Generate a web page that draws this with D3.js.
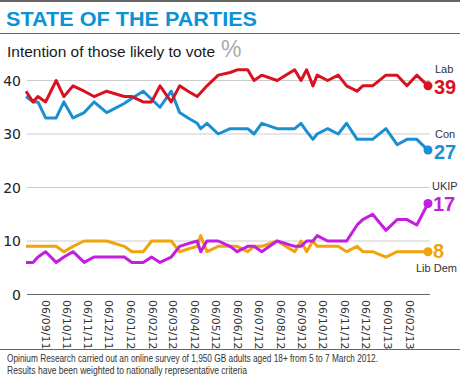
<!DOCTYPE html>
<html><head><meta charset="utf-8">
<script src="https://cdn.jsdelivr.net/npm/d3@7"></script>
<style>
html,body{margin:0;padding:0;background:#fff;}
svg{display:block;font-family:"Liberation Sans",Arial,sans-serif;}
</style></head>
<body>
<svg id="c" width="460" height="381"></svg>
<script>
const dates = ["2011-08-10","2011-08-20","2011-08-27","2011-09-07","2011-09-22","2011-10-03","2011-10-16","2011-11-01","2011-11-15","2011-12-03","2011-12-28","2012-01-08","2012-01-24","2012-02-05","2012-02-17","2012-03-04","2012-03-16","2012-03-28","2012-04-10","2012-04-15","2012-04-24","2012-05-10","2012-05-27","2012-06-06","2012-06-21","2012-06-30","2012-07-11","2012-08-02","2012-08-27","2012-09-05","2012-09-13","2012-09-22","2012-09-28","2012-10-13","2012-10-28","2012-11-09","2012-11-24","2012-12-02","2012-12-16","2013-01-04","2013-01-20","2013-02-03","2013-02-17","2013-03-05"];
const lab  = [38,36,37,36,40,37,39,38,37,38,37,37,36,36,39,36,39,38,37,37.7,39,41,41.5,42,42,40,41,40,42,40,42,39,41,40,41,39,38,39,39,41,41,39,41,39];
const con  = [37,36,36,33,33,36,33,34,36,34,35.7,36.7,38,36.5,35,38,34,33,32,31,32,30,31,31,31,30,32,31,31,32,30.5,29,30,31,30,32,29,29,29,31,28,29,29,27];
const ukip = [6,6,7,8,6,7,8,6,7,7,7,6,6,7,6,7,9,9.5,10,8,10,10,9,8,9,9,8,10,9,9,10,10,11,10,10,10,13,14,15,12,14,14,13,17];
const libdem = [9,9,9,9,9,8,9,10,10,10,9,8,8,10,10,10,8,8.5,9,11,8,9,9,9,8,9,9,10,8,10,8,10,9,9,9,8,9,8,8,7,8,8,8,8];
const yTicks = [0,10,20,30,40];
const xTickDates = ["2011-09-06","2011-10-06","2011-11-06","2011-12-06","2012-01-06","2012-02-06","2012-03-06","2012-04-06","2012-05-06","2012-06-06","2012-07-06","2012-08-06","2012-09-06","2012-10-06","2012-11-06","2012-12-06","2013-01-06","2013-02-06"];
const seriesNames = ["Lib Dem","UKIP","Con","Lab"];
const seriesColors = ["#f0a30a","#c31ee0","#1b8fd2","#d9121f"];

const parse = d3.timeParse("%Y-%m-%d");
const svg = d3.select("#c");

const x = d3.scaleTime().domain([parse(dates[0]), parse(dates[dates.length-1])]).range([26, 428]);
const y = d3.scaleLinear().domain([0, 40]).range([294.5, 80.5]);

// top rule
svg.append("line").attr("x1",0).attr("x2",460).attr("y1",1).attr("y2",1).attr("stroke","#333").attr("stroke-width",1.5);
// title
svg.append("text").attr("x",6).attr("y",25.5).text("STATE OF THE PARTIES")
  .attr("font-size",21).attr("font-weight","bold").attr("fill","#0b93d6")
  .attr("textLength",251).attr("lengthAdjust","spacingAndGlyphs");
svg.append("line").attr("x1",0).attr("x2",460).attr("y1",33.5).attr("y2",33.5).attr("stroke","#666").attr("stroke-width",1);
// subtitle
svg.append("text").attr("x",7).attr("y",57).text("Intention of those likely to vote")
  .attr("font-size",14.5).attr("fill","#1a1a1a").attr("textLength",208).attr("lengthAdjust","spacingAndGlyphs");
svg.append("text").attr("x",221).attr("y",57).text("%").attr("font-size",23).attr("fill","#aaa");

// grid
const g = svg.append("g");
g.selectAll("line.grid").data(yTicks).join("line")
  .attr("x1",27).attr("x2",430).attr("y1",d=>y(d)).attr("y2",d=>y(d))
  .attr("stroke",d=>d===0?"#666":"#ccc").attr("stroke-width",d=>d===0?1.2:1);

// y axis labels via axis
const yAxis = d3.axisLeft(y).tickValues(yTicks).tickSize(0).tickPadding(0);
const ya = svg.append("g").attr("transform","translate(21,0)").call(yAxis);
ya.select(".domain").remove();
ya.selectAll("text").attr("font-size",14).attr("fill","#222").attr("font-family","'DejaVu Sans',sans-serif").attr("dy","0.35em");

// x axis labels
const xAxis = d3.axisBottom(x).tickValues(xTickDates.map(parse)).tickFormat(d3.timeFormat("%d/%m/%y")).tickSize(0).tickPadding(0);
const xa = svg.append("g").attr("transform","translate(0,300)").call(xAxis);
xa.select(".domain").remove();
xa.selectAll("text").attr("font-size",11).attr("fill","#333").attr("font-family","'DejaVu Sans',sans-serif")
  .attr("transform","rotate(90)").attr("text-anchor","start").attr("x",0).attr("y",0).attr("dy","0.35em");

// lines
const all = [libdem, ukip, con, lab];
const line = d3.line().x((d,i)=>x(parse(dates[i]))).y(d=>y(d));
all.forEach((s,k)=>{
  svg.append("path").attr("d",line(s)).attr("fill","none").attr("stroke",seriesColors[k])
    .attr("stroke-width",3).attr("stroke-linejoin","round");
});
all.forEach((s,k)=>{
  svg.append("circle").attr("cx",x(parse(dates[dates.length-1]))).attr("cy",y(s[s.length-1])).attr("r",4.5).attr("fill",seriesColors[k]);
});

// end labels
const labFont = "'Liberation Sans Narrow','Liberation Sans',sans-serif";
function nameLab(txt, xx, yy){ svg.append("text").attr("x",xx).attr("y",yy).text(txt).attr("font-size",11).attr("fill","#333"); }
function numLab(txt, xx, yy, col){ svg.append("text").attr("x",xx).attr("y",yy).text(txt).attr("font-size",20).attr("font-weight","bold").attr("fill",col).attr("font-family",labFont); }
nameLab("Lab",435,72.5); numLab(String(lab[lab.length-1]),434,94,seriesColors[3]);
nameLab("Con",435,137.5); numLab(String(con[con.length-1]),434,159,seriesColors[2]);
nameLab("UKIP",432,189.5); numLab(String(ukip[ukip.length-1]),433,211,seriesColors[1]);
numLab(String(libdem[libdem.length-1]),433,258,seriesColors[0]);
nameLab("Lib Dem",416,272);

// bottom rule and footnote
svg.append("line").attr("x1",0).attr("x2",460).attr("y1",349.5).attr("y2",349.5).attr("stroke","#666").attr("stroke-width",1.2);
svg.append("text").attr("x",7).attr("y",362).text("Opinium Research carried out an online survey of 1,950 GB adults aged 18+ from 5 to 7 March 2012.")
  .attr("font-size",10).attr("fill","#333").attr("textLength",371).attr("lengthAdjust","spacingAndGlyphs");
svg.append("text").attr("x",7).attr("y",373.5).text("Results have been weighted to nationally representative criteria")
  .attr("font-size",10).attr("fill","#333").attr("textLength",240).attr("lengthAdjust","spacingAndGlyphs");
</script>
</body></html>
